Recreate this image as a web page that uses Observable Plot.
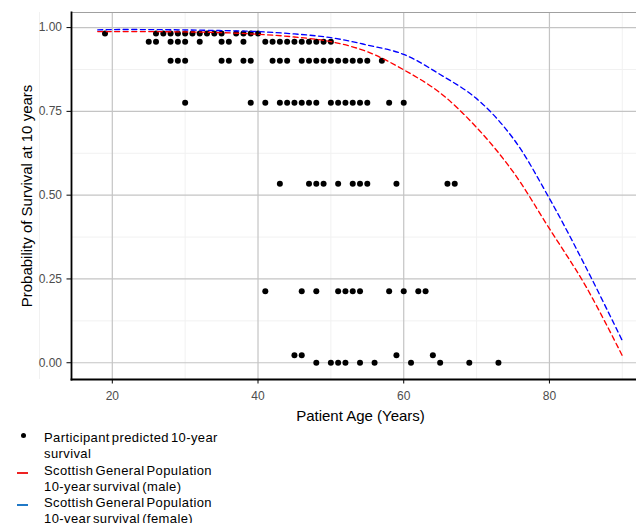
<!DOCTYPE html>
<html><head><meta charset="utf-8">
<script src="https://cdn.jsdelivr.net/npm/d3@7"></script>
<script src="https://cdn.jsdelivr.net/npm/@observablehq/plot@0.6"></script>
<style>
html,body{margin:0;padding:0;background:#fff;overflow:hidden;}
body{width:636px;height:523px;position:relative;font-family:"Liberation Sans",Arial,sans-serif;}
#chart{position:absolute;left:0;top:0;}
.leg{position:absolute;left:44px;font-size:13px;line-height:16.5px;letter-spacing:0.4px;word-spacing:-2px;color:#000;white-space:nowrap;}
.key{position:absolute;}
</style></head><body>
<div id="chart"></div>
<div id="legend"></div>
<script>
// Population curves (10-year survival by age)
const curveAges = [18,20,25,30,35,40,45,50,55,60,65,70,75,80,85,90];
const maleSurv   = [0.988,0.988,0.988,0.987,0.985,0.980,0.972,0.958,0.928,0.874,0.805,0.702,0.570,0.400,0.228,0.021];
const femaleSurv = [0.993,0.994,0.994,0.993,0.991,0.988,0.981,0.970,0.948,0.920,0.860,0.788,0.670,0.490,0.285,0.066];

// Participant predicted survival levels and ages at each level
const levels = [0.982, 0.958, 0.901, 0.776, 0.534, 0.213, 0.022, 0.0];
const agesByLevel = [
  [19,26,27,28,29,30,31,32,33,34,35,37,38,39,40],
  [25,26,28,29,30,32,35,36,38,41,42,43,44,45,46,47,48,49,50],
  [28,29,30,35,36,38,39,42,43,44,46,47,48,49,50,51,52,53,54,55,57],
  [30,39,41,43,44,45,46,47,48,50,51,52,53,54,55,58,60],
  [43,47,48,49,51,53,54,55,59,66,67],
  [41,46,48,51,52,53,54,58,60,62,63],
  [45,46,59,64],
  [48,50,51,52,54,56,61,65,69,73]
];

const xTicks = [20,40,60,80];
const xMinor = [10,30,50,70,90];
const yTicks = [0,0.25,0.5,0.75,1];
const yMinor = [0.125,0.375,0.625,0.875];
const xTitle = "Patient Age (Years)";
const yTitle = "Probability of Survival at 10 years";
const legendLabels = [
  ["Participant predicted 10-year", "survival"],
  ["Scottish General Population", "10-year survival (male)"],
  ["Scottish General Population", "10-year survival (female)"]
];

const points = levels.flatMap((p, i) => agesByLevel[i].map(age => ({age, p})));
const male = curveAges.map((age, i) => ({age, p: maleSurv[i]}));
const female = curveAges.map((age, i) => ({age, p: femaleSurv[i]}));

const chart = Plot.plot({
  width: 636, height: 426,
  marginLeft: 71, marginRight: 0, marginTop: 12, marginBottom: 47,
  x: {domain: [14.4, 91.95], axis: null},
  y: {domain: [-0.05, 1.045], axis: null},
  style: {fontFamily: "Liberation Sans, Arial, sans-serif", background: "white", overflow: "visible"},
  marks: [
    Plot.gridX(xMinor, {stroke: "#f1f1f1", strokeOpacity: 1, strokeWidth: 1}),
    Plot.gridY(yMinor, {stroke: "#f1f1f1", strokeOpacity: 1, strokeWidth: 1}),
    Plot.gridX(xTicks, {stroke: "#c4c4c4", strokeOpacity: 1, strokeWidth: 1.2}),
    Plot.gridY(yTicks, {stroke: "#c4c4c4", strokeOpacity: 1, strokeWidth: 1.2}),
    Plot.frame({anchor: "top", stroke: "#a0a0a0", strokeWidth: 1}),
    Plot.dot(points, {x: "age", y: "p", r: 3, fill: "black", stroke: "none"}),
    Plot.line(male, {x: "age", y: "p", stroke: "#ff0000", strokeWidth: 1.35, strokeDasharray: "5,3.5", curve: "catmull-rom"}),
    Plot.line(female, {x: "age", y: "p", stroke: "#0000ff", strokeWidth: 1.35, strokeDasharray: "5,3.5", curve: "catmull-rom"}),
    Plot.frame({anchor: "left", stroke: "black", strokeWidth: 1.8}),
    Plot.frame({anchor: "bottom", stroke: "black", strokeWidth: 1.8}),
    Plot.axisX(xTicks, {tickSize: 4.5, tickPadding: 7, fontSize: 12, fill: "#4d4d4d", stroke: "black", label: null}),
    Plot.axisY(yTicks, {tickFormat: d3.format(".2f"), tickSize: 4.5, tickPadding: 5, fontSize: 12, fill: "#4d4d4d", stroke: "black", label: null}),
    Plot.text([xTitle], {text: d => d, frameAnchor: "bottom", textAnchor: "middle", lineAnchor: "middle", dx: 6.5, dy: 37, fontSize: 15, fill: "black"}),
    Plot.text([yTitle], {text: d => d, frameAnchor: "left", textAnchor: "middle", lineAnchor: "middle", rotate: -90, dx: -44, fontSize: 15, fill: "black"})
  ]
});
document.getElementById("chart").appendChild(chart);

// Legend (HTML, below the SVG)
const legend = document.getElementById("legend");
const itemTops = [429.75, 462.75, 494.5];
const keys = [
  {style: "left:20.5px;top:432.5px;width:5px;height:5px;border-radius:50%;background:#000"},
  {style: "left:17px;top:472px;width:11px;height:2.2px;background:#ee2222"},
  {style: "left:17px;top:504px;width:11px;height:2.2px;background:#2079c7"}
];
legendLabels.forEach((lines, i) => {
  const k = document.createElement("div");
  k.className = "key";
  k.setAttribute("style", keys[i].style);
  legend.appendChild(k);
  const t = document.createElement("div");
  t.className = "leg";
  t.style.top = itemTops[i] + "px";
  t.innerHTML = lines.join("<br>");
  legend.appendChild(t);
});
</script>
</body></html>
